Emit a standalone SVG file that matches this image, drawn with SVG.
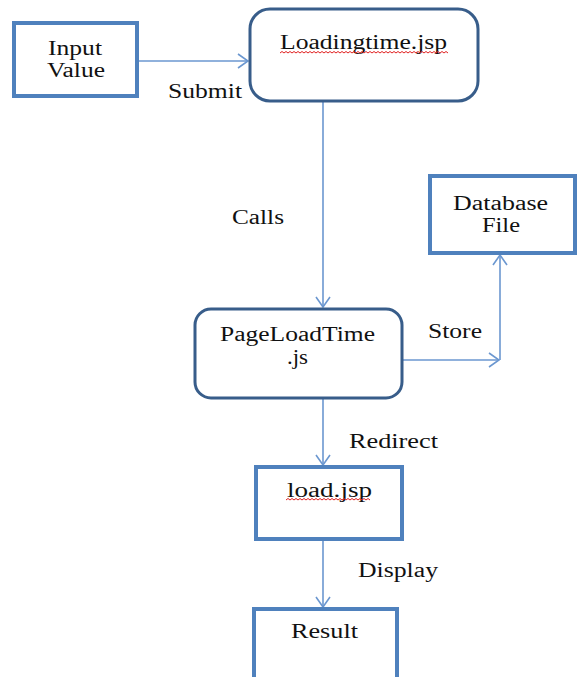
<svg xmlns="http://www.w3.org/2000/svg" width="577" height="677" viewBox="0 0 577 677">
  <style>
    .box { fill: #ffffff; stroke: #4f81bd; stroke-width: 4; }
    .rbox { fill: #ffffff; stroke: #385d8a; stroke-width: 3; }
    .lbl { font-family: 'Liberation Serif', 'Times New Roman', serif; font-size: 20px; fill: #111111; }
    .edge { fill: none; stroke: #6b97d0; stroke-width: 1.6; }
    .squig { fill: none; stroke: #e02020; stroke-width: 1; }
  </style>
  <defs>
    <marker id="open" viewBox="0 0 12 16" refX="11" refY="8" markerWidth="12" markerHeight="16" markerUnits="userSpaceOnUse" orient="auto">
      <path d="M1,1 L11,8 L1,15" fill="none" stroke="#6b97d0" stroke-width="1.6"/>
    </marker>
  </defs>
  <rect width="577" height="677" fill="#ffffff"/>

  <g id="connectors">
    <line class="edge" x1="137" y1="61" x2="248" y2="61" marker-end="url(#open)"/>
    <line class="edge" x1="323" y1="101" x2="323" y2="307" marker-end="url(#open)"/>
    <line class="edge" x1="402" y1="360" x2="499" y2="360" marker-end="url(#open)"/>
    <line class="edge" x1="500" y1="360" x2="500" y2="255" marker-end="url(#open)"/>
    <line class="edge" x1="323" y1="398" x2="323" y2="465" marker-end="url(#open)"/>
    <line class="edge" x1="323" y1="539" x2="323" y2="607" marker-end="url(#open)"/>
    <text class="lbl" x="168" y="98" textLength="74" lengthAdjust="spacingAndGlyphs">Submit</text>
    <text class="lbl" x="232" y="224" textLength="52" lengthAdjust="spacingAndGlyphs">Calls</text>
    <text class="lbl" x="428" y="338" textLength="54" lengthAdjust="spacingAndGlyphs">Store</text>
    <text class="lbl" x="349" y="448" textLength="89" lengthAdjust="spacingAndGlyphs">Redirect</text>
    <text class="lbl" x="358" y="577" textLength="80" lengthAdjust="spacingAndGlyphs">Display</text>
  </g>

  <g id="input-value">
    <rect class="box" x="14" y="23" width="123" height="73"/>
    <text class="lbl" x="48" y="55" textLength="54" lengthAdjust="spacingAndGlyphs">Input</text>
    <text class="lbl" x="47" y="77" textLength="58" lengthAdjust="spacingAndGlyphs">Value</text>
  </g>

  <g id="loadingtime-jsp">
    <rect class="rbox" x="250" y="9" width="228" height="92" rx="20" ry="20"/>
    <text class="lbl" x="280" y="49" textLength="167" lengthAdjust="spacingAndGlyphs">Loadingtime.jsp</text>
    <!-- spell-check style wavy underline -->
    <path class="squig" d="M280,53 l2,-1.5 l2,1.5 l2,-1.5 l2,1.5 l2,-1.5 l2,1.5 l2,-1.5 l2,1.5 l2,-1.5 l2,1.5 l2,-1.5 l2,1.5 l2,-1.5 l2,1.5 l2,-1.5 l2,1.5 l2,-1.5 l2,1.5 l2,-1.5 l2,1.5 l2,-1.5 l2,1.5 l2,-1.5 l2,1.5 l2,-1.5 l2,1.5 l2,-1.5 l2,1.5 l2,-1.5 l2,1.5 l2,-1.5 l2,1.5 l2,-1.5 l2,1.5 l2,-1.5 l2,1.5 l2,-1.5 l2,1.5 l2,-1.5 l2,1.5 l2,-1.5 l2,1.5 l2,-1.5 l2,1.5 l2,-1.5 l2,1.5 l2,-1.5 l2,1.5 l2,-1.5 l2,1.5 l2,-1.5 l2,1.5 l2,-1.5 l2,1.5 l2,-1.5 l2,1.5 l2,-1.5 l2,1.5 l2,-1.5 l2,1.5 l2,-1.5 l2,1.5 l2,-1.5 l2,1.5 l2,-1.5 l2,1.5 l2,-1.5 l2,1.5 l2,-1.5 l2,1.5 l2,-1.5 l2,1.5 l2,-1.5 l2,1.5 l2,-1.5 l2,1.5 l2,-1.5 l2,1.5 l2,-1.5 l2,1.5 l2,-1.5 l2,1.5 l2,-1.5 l2,1.5"/>
  </g>

  <g id="database-file">
    <rect class="box" x="430" y="176" width="145" height="77"/>
    <text class="lbl" x="453" y="210" textLength="95" lengthAdjust="spacingAndGlyphs">Database</text>
    <text class="lbl" x="482" y="232" textLength="38" lengthAdjust="spacingAndGlyphs">File</text>
  </g>

  <g id="pageloadtime-js">
    <rect class="rbox" x="195" y="309" width="207" height="89" rx="16" ry="16"/>
    <text class="lbl" x="220" y="341" textLength="155" lengthAdjust="spacingAndGlyphs">PageLoadTime</text>
    <text class="lbl" x="287" y="364" textLength="21" lengthAdjust="spacingAndGlyphs">.js</text>
  </g>

  <g id="load-jsp">
    <rect class="box" x="256" y="467" width="146" height="72"/>
    <text class="lbl" x="287" y="497" textLength="85" lengthAdjust="spacingAndGlyphs">load.jsp</text>
    <path class="squig" d="M286,500 l2,-1.5 l2,1.5 l2,-1.5 l2,1.5 l2,-1.5 l2,1.5 l2,-1.5 l2,1.5 l2,-1.5 l2,1.5 l2,-1.5 l2,1.5 l2,-1.5 l2,1.5 l2,-1.5 l2,1.5 l2,-1.5 l2,1.5 l2,-1.5 l2,1.5 l2,-1.5 l2,1.5 l2,-1.5 l2,1.5 l2,-1.5 l2,1.5 l2,-1.5 l2,1.5 l2,-1.5 l2,1.5 l2,-1.5 l2,1.5 l2,-1.5 l2,1.5 l2,-1.5 l2,1.5 l2,-1.5 l2,1.5 l2,-1.5 l2,1.5 l2,-1.5 l2,1.5"/>
  </g>

  <g id="result">
    <rect class="box" x="254" y="609" width="143" height="90"/>
    <text class="lbl" x="291" y="638" textLength="67" lengthAdjust="spacingAndGlyphs">Result</text>
  </g>
</svg>
